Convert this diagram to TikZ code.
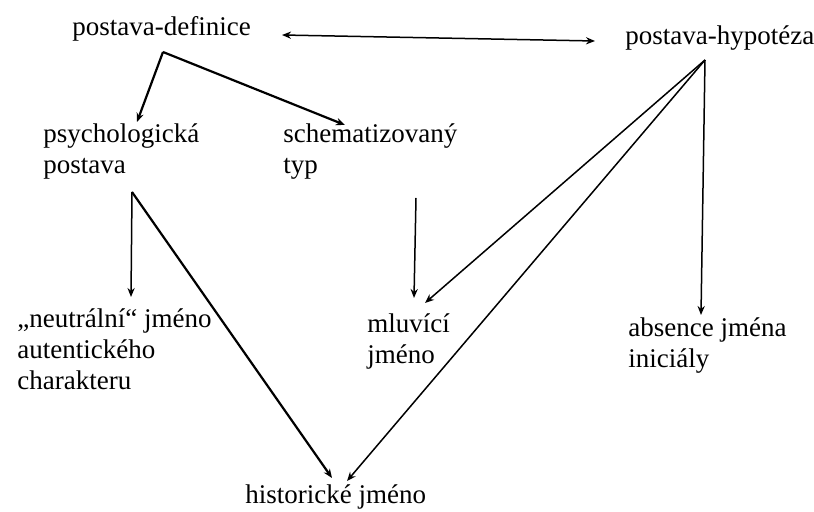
\documentclass[tikz,border=0pt]{standalone}
\usepackage{fontspec}
\setmainfont{Liberation Serif}
\usetikzlibrary{arrows.meta}
\begin{document}
\begin{tikzpicture}[x=0.5pt,y=-0.5pt,
  lbl/.style={anchor=base west, inner sep=0pt, align=left,
              font=\fontsize{13.5pt}{15.5pt}\selectfont},
  arrA/.style={line width=1.1pt, -{Stealth[length=4.5pt,width=3.6pt]}},
  arrB/.style={line width=0.75pt, -{Stealth[length=4.5pt,width=3.6pt]}},
  arrD/.style={line width=0.75pt, {Stealth[length=4.5pt,width=3.6pt]}-{Stealth[length=4.5pt,width=3.6pt]}}]
\useasboundingbox (0,0) rectangle (814,512);

% multi-line nodes are placed by the baseline of their last line
\node[lbl] (pd)   at (72,36)   {postava-definice};
\node[lbl] (ph)   at (625,45)  {postava-hypotéza};
\node[lbl] (psy)  at (43,174)  {psychologická\\postava};
\node[lbl] (sch)  at (283,174) {schematizovaný\\typ};
\node[lbl] (neu)  at (17,390)  {„neutrální“ jméno\\autentického\\charakteru};
\node[lbl] (mluv) at (367,364) {mluvící\\jméno};
\node[lbl] (abs)  at (628,368) {absence jména\\iniciály};
\node[lbl] (hist) at (245,504) {historické jméno};

% double arrow
\draw[arrD] ([xshift=105pt,yshift=0.5pt]pd.base west) -- ([xshift=-15pt,yshift=2pt]ph.base west);

% from postava-definice
\draw[arrA] ([xshift=45.5pt,yshift=-8pt]pd.base west) -- ([xshift=47pt,yshift=26pt]psy.base west);
\draw[arrA] ([xshift=45.5pt,yshift=-8pt]pd.base west) -- ([xshift=31pt,yshift=24.5pt]sch.base west);

% from psychologická postava
\draw[arrB] ([xshift=44.5pt,yshift=-9pt]psy.base west) -- ([xshift=57pt,yshift=46.5pt]neu.base west);
\draw[arrA] ([xshift=44.5pt,yshift=-9pt]psy.base west) -- ([xshift=43.5pt,yshift=13pt]hist.base west);

% from schematizovaný typ
\draw[arrB] ([xshift=66.5pt,yshift=-12pt]sch.base west) -- ([xshift=23.5pt,yshift=33pt]mluv.base west);

% from postava-hypotéza
\draw[arrB] ([xshift=40pt,yshift=-7.5pt]ph.base west) -- ([xshift=29pt,yshift=30.5pt]mluv.base west);
\draw[arrB] ([xshift=40pt,yshift=-7.5pt]ph.base west) -- ([xshift=51pt,yshift=11.5pt]hist.base west);
\draw[arrB] ([xshift=40pt,yshift=-7.5pt]ph.base west) -- ([xshift=36.5pt,yshift=26.5pt]abs.base west);
\end{tikzpicture}
\end{document}
